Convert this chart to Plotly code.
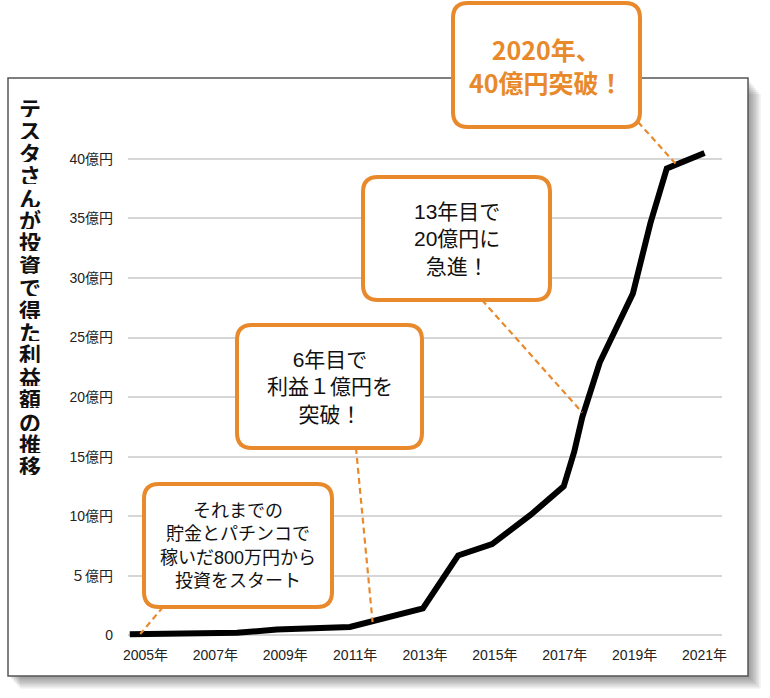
import plotly.graph_objects as go

# data (profit in 億円)
years = [2004.55, 2007.62, 2008.76, 2010.85, 2012.94, 2013.95, 2014.92, 2016.02,
         2016.97, 2017.27, 2017.5, 2018.0, 2018.95, 2019.45, 2019.92, 2021.0]
profit = [0.08, 0.2, 0.48, 0.7, 2.25, 6.7, 7.65, 10.1,
          12.5, 15.4, 18.3, 22.9, 28.7, 34.6, 39.2, 40.5]

y_ticks = [0, 5, 10, 15, 20, 25, 30, 35, 40]
y_labels = ["0", "５億円", "10億円", "15億円", "20億円", "25億円", "30億円", "35億円", "40億円"]
x_ticks = [2005, 2007, 2009, 2011, 2013, 2015, 2017, 2019, 2021]
x_labels = [f"{y}年" for y in x_ticks]

title_text = "テスタさんが投資で得た利益額の推移"

callouts = [
    # text, box (left, top, right, bottom px), leader start px, leader end (year, value), style
    ("<b>2020年、<br>40億円突破！</b>", (453, 3, 640, 127), (638, 122), (2020.2, 39.5), "hl"),
    ("13年目で<br>20億円に<br>急進！", (363, 177, 550, 300), (482, 300), (2017.5, 18.7), "n"),
    ("6年目で<br>利益１億円を<br>突破！", (237, 325, 422, 448), (356, 448), (2011.5, 1.1), "n"),
    ("それまでの<br>貯金とパチンコで<br>稼いだ800万円から<br>投資をスタート", (144, 484, 332, 607), (163, 607), (2004.85, 0.1), "s"),
]

ORANGE = "#E8892B"
CJK = "Liberation Sans, Noto Sans CJK JP"

XR = [2004.5, 2021.5]
YR = [-0.4, 41.5]

# plot area in window pixels
L, R, T, B = 128, 722, 141, 640


def px(x):
    return (x - L) / (R - L)


def py(y):
    return (B - y) / (B - T)


def dx(v):
    return (v - XR[0]) / (XR[1] - XR[0])


def dy(v):
    return (v - YR[0]) / (YR[1] - YR[0])


def round_rect(x0, y0, x1, y1, r):
    rx, ry = r / (R - L), r / (B - T)
    a0, a1, b0, b1 = px(x0), px(x1), py(y1), py(y0)
    return (f"M {a0+rx},{b1} L {a1-rx},{b1} Q {a1},{b1} {a1},{b1-ry} "
            f"L {a1},{b0+ry} Q {a1},{b0} {a1-rx},{b0} L {a0+rx},{b0} "
            f"Q {a0},{b0} {a0},{b0+ry} L {a0},{b1-ry} Q {a0},{b1} {a0+rx},{b1} Z")


fig = go.Figure(go.Scatter(
    x=years, y=profit, mode="lines",
    line=dict(color="black", width=6),
    hoverinfo="skip",
))

shapes = []
# frame shadow
for i in range(1, 9):
    shapes.append(dict(type="rect", xref="paper", yref="paper", layer="below",
                       x0=px(8 + i * 1.5), x1=px(748 + i * 1.6),
                       y0=py(676 + i * 1.6), y1=py(78 + i * 2),
                       fillcolor="rgba(0,0,0,0.055)", line=dict(width=0)))
# frame
shapes.append(dict(type="rect", xref="paper", yref="paper", layer="below",
                   x0=px(8), x1=px(748), y0=py(676), y1=py(78),
                   fillcolor="white", line=dict(color="#555", width=1.5)))

annotations = []
# dashed leaders (drawn first so boxes cover their ends)
for text, box, start, end, style in callouts:
    shapes.append(dict(type="line", xref="paper", yref="paper",
                       x0=px(start[0]), y0=py(start[1]),
                       x1=dx(end[0]), y1=dy(end[1]), layer="above",
                       line=dict(color=ORANGE, width=2.2, dash="6px,4px")))
for text, box, start, end, style in callouts:
    x0, y0, x1, y1 = box
    shapes.append(dict(type="path", xref="paper", yref="paper", layer="above",
                       path=round_rect(x0, y0, x1, y1, 15),
                       fillcolor="white", line=dict(color=ORANGE, width=4)))
    if style == "hl":
        font = dict(family="Liberation Sans Narrow, Noto Sans CJK JP", size=25, color=ORANGE)
    elif style == "s":
        font = dict(family=CJK, size=18, color="#111")
    else:
        font = dict(family=CJK, size=21, color="#111")
    annotations.append(dict(xref="paper", yref="paper", x=px((x0 + x1) / 2), y=py((y0 + y1) / 2),
                            text=text, showarrow=False, font=font, align="center",
                            xanchor="center", yanchor="middle"))

# vertical (upright) axis title
for i, ch in enumerate(title_text):
    annotations.append(dict(xref="paper", yref="paper", x=px(30), y=py(107 + i * 22.4),
                            text=f"<b>{ch}</b>", showarrow=False, height=20, borderpad=0,
                            font=dict(family="Noto Sans CJK JP", size=22, color="#111"),
                            xanchor="center", yanchor="middle"))

fig.update_layout(
    width=770, height=698,
    margin=dict(l=L, r=770 - R, t=T, b=698 - B),
    paper_bgcolor="white",
    plot_bgcolor="rgba(0,0,0,0)",
    showlegend=False,
    shapes=shapes,
    annotations=annotations,
    xaxis=dict(range=XR, tickvals=x_ticks, ticktext=x_labels,
               showgrid=False, zeroline=False, showline=False, ticks="",
               tickfont=dict(family=CJK, size=14, color="#222"), ticklabelstandoff=5),
    yaxis=dict(range=YR, tickvals=y_ticks, ticktext=y_labels,
               showgrid=True, gridcolor="#d6d6d6", gridwidth=1.5, zeroline=False,
               showline=False, ticks="",
               tickfont=dict(family=CJK, size=14, color="#222"), ticklabelstandoff=14),
)

# drop the default 8px page margin so the figure fills the window exactly
fig.write_html("out.html", config={"displayModeBar": False},
               post_script="document.body.style.margin='0';document.body.style.overflow='hidden';")
